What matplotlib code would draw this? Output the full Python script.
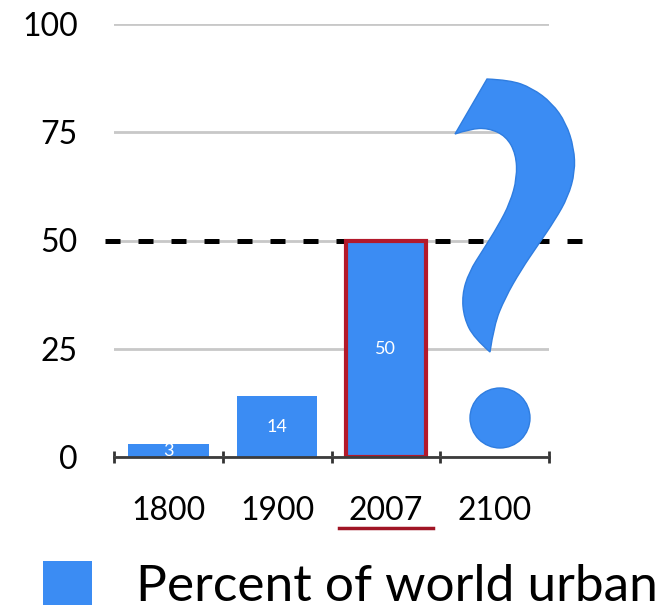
import matplotlib
matplotlib.use("Agg")
import matplotlib.pyplot as plt
from matplotlib.patches import PathPatch, Circle
from matplotlib.path import Path
import numpy as np

# data
years = ["1800", "1900", "2007", "2100"]
urban_pct = [3, 14, 50]          # 2100 is unknown -> "?"
highlight = 2                    # index of 2007
threshold = 50
legend_label = "Percent of world urban"

blue = "#3b8cf3"
red = "#b3192b"

plt.rcParams["font.family"] = ["Lato", "DejaVu Sans"]

fig = plt.figure(figsize=(6.61, 6.11), dpi=100)
ax = fig.add_axes([114 / 661, 154 / 611, 435 / 661, 433 / 611])

x = np.arange(len(urban_pct))
bars = ax.bar(x, urban_pct, width=0.74, color=blue, zorder=3, label=legend_label)
bars[highlight].set_edgecolor(red)
bars[highlight].set_linewidth(3)

ax.bar_label(bars, labels=[str(v) for v in urban_pct], label_type="center",
             color="white", fontsize=13, zorder=4)

# 50% dashed line, runs past the plot on both sides
ax.plot([-0.58, 3.85], [threshold, threshold], color="black", lw=3.6,
        dashes=(3, 3.6), clip_on=False, zorder=2.9)

ax.set_xlim(-0.5, 3.5)
ax.set_ylim(0, 100)
ax.set_yticks([0, 25, 50, 75, 100])
ax.yaxis.grid(True, color="#c8c8c8", lw=2)
ax.set_axisbelow(True)

ax.set_xticks(range(len(years)))
ax.set_xticklabels(years)
ax.set_xticks(np.arange(-0.5, len(years), 1), minor=True)
ax.tick_params(axis="y", length=0, pad=26, labelsize=23)
ax.tick_params(axis="x", which="major", length=0, pad=28, labelsize=23)
ax.tick_params(axis="x", which="minor", direction="inout", length=9,
               width=2, color="#333333")

for s in ["top", "right", "left"]:
    ax.spines[s].set_visible(False)
ax.spines["bottom"].set_color("#3c3c3c")
ax.spines["bottom"].set_linewidth(2)
ax.spines["bottom"].set_zorder(4)

# red underline under 2007
ax.plot([highlight - 0.43, highlight + 0.43], [-0.164, -0.164], color="#a01525",
        lw=2.5, transform=ax.get_xaxis_transform(), clip_on=False)


def smooth_run(pts):
    # quadratic b-spline through the midpoints, ends kept
    pts = np.asarray(pts, float)
    verts, codes = [pts[0]], [Path.LINETO]
    for i in range(1, len(pts) - 2):
        verts += [pts[i], (pts[i] + pts[i + 1]) / 2]
        codes += [Path.CURVE3, Path.CURVE3]
    verts += [pts[-2], pts[-1]]
    codes += [Path.CURVE3, Path.CURVE3]
    return verts, codes


# the big question mark for 2100, drawn in pixel space
ov = fig.add_axes([0, 0, 1, 1], zorder=5)
ov.set_xlim(0, 661)
ov.set_ylim(611, 0)
ov.axis("off")
ov.patch.set_alpha(0)
outer = [(487, 79), (510, 80), (532, 88), (552, 103), (566, 123), (574, 148),
         (575, 172), (568, 197), (555, 220), (538, 245), (521, 270),
         (505, 298), (494, 325), (490, 352)]
inner = [(490, 352), (474, 338), (464, 318), (462, 295), (469, 272),
         (483, 250), (498, 226), (510, 203), (517, 178), (516, 154),
         (506, 136), (488, 128), (470, 129), (455, 134)]
v1, c1 = smooth_run(outer)
v2, c2 = smooth_run(inner)
verts = v1 + v2[1:] + [outer[0], outer[0]]
codes = [Path.MOVETO] + c1[1:] + c2[1:] + [Path.LINETO, Path.CLOSEPOLY]
ov.add_patch(PathPatch(Path(verts, codes), facecolor=blue, edgecolor="#2f7de0", lw=1))
ov.add_patch(Circle((500, 418), 30, facecolor=blue, edgecolor="#2f7de0", lw=1))

fig.legend(handles=[bars], labels=[legend_label], loc="lower left",
           bbox_to_anchor=(43 / 661, 1 / 611), frameon=False, fontsize=37,
           handlelength=0.95, handleheight=0.95, handletextpad=0.85,
           borderpad=0, borderaxespad=0)

fig.savefig("out.png", dpi=100)
